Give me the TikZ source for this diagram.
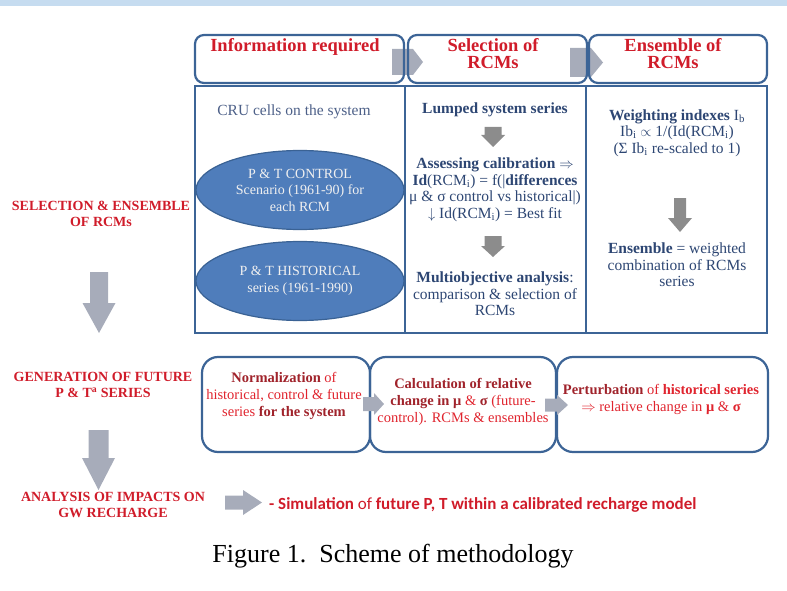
\documentclass[tikz,border=0pt]{standalone}
\usepackage{fontspec}
\setmainfont{Liberation Serif}
\newfontfamily\calib{Carlito}
\usetikzlibrary{shapes.geometric}

\definecolor{frameblue}{HTML}{3C6496}
\definecolor{ellfill}{HTML}{4F7DBB}
\definecolor{ellline}{HTML}{3A6294}
\definecolor{navytext}{HTML}{2D4673}
\definecolor{softnavy}{HTML}{4D6088}
\definecolor{headred}{HTML}{D01C2A}
\definecolor{darkred}{HTML}{A0232B}
\definecolor{brightred}{HTML}{E0242E}
\definecolor{arrowgrey}{HTML}{A7ACBA}
\definecolor{darkgrey}{HTML}{8C8C8C}
\definecolor{stripblue}{HTML}{C6DCF0}

% block arrow pointing down: colour, centre x, top, tip, shaft half width, head half width, head start
\newcommand{\blockdown}[7]{%
  \fill[#1] ({#2-#5},#3) -- ({#2+#5},#3) -- ({#2+#5},#7) -- ({#2+#6},#7) -- (#2,#4)
    -- ({#2-#6},#7) -- ({#2-#5},#7) -- cycle;}
% block arrow pointing right: colour, centre y, left, tip, shaft half width, head half width, head start
\newcommand{\blockright}[7]{%
  \fill[#1] (#3,{#2-#5}) -- (#7,{#2-#5}) -- (#7,{#2-#6}) -- (#4,#2) -- (#7,{#2+#6})
    -- (#7,{#2+#5}) -- (#3,{#2+#5}) -- cycle;}

\tikzset{
  hdrbox/.style={draw=frameblue, line width=2.2pt, rounded corners=9pt},
  colbox/.style={draw=frameblue, line width=2.2pt},
  stagebox/.style={draw=frameblue, line width=2.2pt, rounded corners=16pt},
  hdrtext/.style={font=\bfseries\fontsize{18.5}{17}\selectfont, text=headred, align=center, inner sep=0pt},
  coltext/.style={font=\fontsize{15.5}{16.5}\selectfont, text=navytext, align=center, inner sep=0pt},
  phase/.style={font=\bfseries\fontsize{14}{16}\selectfont, text=headred, align=center, inner sep=0pt},
  stagetext/.style={font=\fontsize{14.5}{17}\selectfont, text=brightred, align=center, inner sep=0pt},
  ellnode/.style={ellipse, fill=ellfill, draw=ellline, line width=1.2pt, minimum width=208pt,
    minimum height=79pt, inner sep=0pt, text=white!94!black, align=center,
    font=\fontsize{14}{16.5}\selectfont},
}

\begin{document}
\begin{tikzpicture}[x=1pt, y=-1pt]
\useasboundingbox (0,0) rectangle (787,591);
\fill[stripblue] (0,0) rectangle (787,6);

% arrows between the column headings (drawn below the frames)
\fill[arrowgrey] (392,49) -- (413,49) -- (423,62) -- (413,75) -- (392,75) -- cycle;
\fill[arrowgrey] (570,48) -- (591,48) -- (603,62.5) -- (591,77) -- (570,77) -- cycle;

% column headings
\draw[hdrbox] (195,35) rectangle (404,83);
\draw[hdrbox] (408,35) rectangle (587,83);
\draw[hdrbox] (589,35) rectangle (767,83);
\node[hdrtext] (hinfo) at (295,47) {Information required};
\node[hdrtext] (hsel) at (493,54) {Selection of\\RCMs};
\node[hdrtext] (hens) at (673,54) {Ensemble of\\RCMs};

% column bodies
\draw[colbox] (195,86) rectangle (405,333);
\draw[colbox] (405,86) rectangle (586,333);
\draw[colbox] (586,86) rectangle (767,333);

% first column
\node[coltext, text=softnavy] (cru) at (294,112) {CRU cells on the system};
\node[ellnode] (ctrl) at (300,190) {P \& T CONTROL\\Scenario (1961-90) for\\each RCM};
\node[ellnode] (hist) at (300,281) {P \& T HISTORICAL\\series (1961-1990)};

% second column
\node[coltext] (lumped) at (495,110) {\textbf{Lumped system series}};
\blockdown{darkgrey}{493}{127}{147}{8.5}{12}{135}
\node[coltext] (assess) at (495,190) {\textbf{Assessing calibration} $\Rightarrow$\\
  \textbf{Id}(RCM\textsubscript{i}) = f(|\textbf{differences}\\
  μ \& σ control vs historical|)\\
  $\downarrow$ Id(RCM\textsubscript{i}) = Best fit};
\blockdown{darkgrey}{493}{236}{257}{8.5}{12}{246}
\node[coltext] (multi) at (495,294) {\textbf{Multiobjective analysis}:\\
  comparison \& selection of\\RCMs};

% third column
\node[coltext] (weights) at (677,133) {\textbf{Weighting indexes} I\textsubscript{b}\\
  Ib\textsubscript{i} $\propto$ 1/(Id(RCM\textsubscript{i})\\
  (Σ Ib\textsubscript{i} re-scaled to 1)};
\blockdown{darkgrey}{680}{198}{232}{6}{12}{218}
\node[coltext] (ensemble) at (677,265) {\textbf{Ensemble} = weighted\\
  combination of RCMs\\series};

% phases on the left
\node[phase] (phsel) at (101,214) {SELECTION \& ENSEMBLE\\OF RCMs};
\blockdown{arrowgrey}{99}{272}{333}{9}{16.5}{303}
\node[phase] (phgen) at (103,385) {GENERATION OF FUTURE\\P \& T\textsuperscript{a} SERIES};
\blockdown{arrowgrey}{98.5}{430}{490}{10}{16.5}{458}
\node[phase] (phana) at (113,505) {ANALYSIS OF IMPACTS ON\\GW RECHARGE};

% generation stages
\draw[stagebox] (202,357) rectangle (370,452);
\draw[stagebox] (370,357) rectangle (556,452);
\draw[stagebox] (557,357) rectangle (768,452);
\blockright{arrowgrey}{404}{363}{384}{7}{11}{374}
\blockright{arrowgrey}{405}{545}{568}{6.5}{10}{557}
\node[stagetext] (norm) at (284,396) {\textcolor{darkred}{\textbf{Normalization}} of\\
  historical, control \& future\\
  series \textcolor{darkred}{\textbf{for the system}}};
\node[stagetext] (calc) at (463,402) {\textcolor{darkred}{\textbf{Calculation of relative}}\\
  \textcolor{darkred}{\textbf{change in μ}} \& \textcolor{darkred}{\textbf{σ}} (future-\\
  control). RCMs \& ensembles};
\node[stagetext] (pert) at (661,399) {\textcolor{darkred}{\textbf{Perturbation}} of \textbf{historical series}\\
  $\Rightarrow$ relative change in \textbf{μ} \& \textbf{σ}};

% recharge analysis
\blockright{arrowgrey}{502.5}{225}{262}{7}{12.5}{243}
\node[anchor=west, inner sep=0pt, text=headred, font=\calib\fontsize{17}{19}\selectfont]
  (sim) at (269,505) {\textbf{- Simulation} of \textbf{future P, T within a calibrated recharge model}};

% caption
\node[inner sep=0pt, font=\fontsize{26}{29}\selectfont] (caption) at (393,556)
  {Figure 1.\ \ Scheme of methodology};
\end{tikzpicture}
\end{document}
